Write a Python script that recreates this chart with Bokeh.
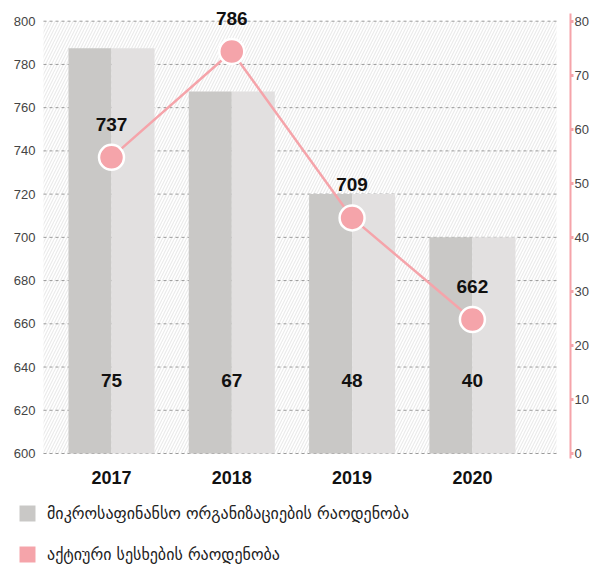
from bokeh.plotting import figure
from bokeh.models import (ColumnDataSource, Range1d, LinearAxis, FixedTicker, LabelSet,
                          Legend, LegendItem)
from bokeh.core.properties import value
from bokeh.transform import dodge
from bokeh.embed import file_html
from bokeh.resources import INLINE

# ---- data ----
years = ["2017", "2018", "2019", "2020"]
mfo_counts = [75, 67, 48, 40]             # მიკროსაფინანსო ორგანიზაციების რაოდენობა (right axis)
active_contracts = [737, 786, 709, 662]   # აქტიური სესხების რაოდენობა (left axis)
left_ticks = [600, 620, 640, 660, 680, 700, 720, 740, 760, 780, 800]
right_ticks = [0, 10, 20, 30, 40, 50, 60, 70, 80]

label_bars = "მიკროსაფინანსო ორგანიზაციების რაოდენობა"
label_line = "აქტიური სესხების რაოდენობა"

PINK = "#f5a4aa"
DARK = "#c9c8c6"
LIGHT = "#e2e0e0"
FONT = "Liberation Sans"

# ---- layout geometry (pixels inside the figure) ----
W, H = 597, 564
frame_w = 570
right_panel = W - frame_w
px_top, px_bottom = 20.7, 453.0          # pixel rows of axis max / axis min
center0_px, step_px = 111.0, 120.3        # first category centre, category spacing
hatch_left_px, hatch_right_px = 43.0, 556.0
ylabel_px = 35.0

ppu_left = (px_bottom - px_top) / (left_ticks[-1] - left_ticks[0])
ppu_right = (px_bottom - px_top) / (right_ticks[-1] - right_ticks[0])
y0 = left_ticks[0] - (H - px_bottom) / ppu_left
y1 = left_ticks[-1] + px_top / ppu_left
r0 = right_ticks[0] - (H - px_bottom) / ppu_right
r1 = right_ticks[-1] + px_top / ppu_right
def xpx(px):
    return (px - center0_px) / step_px
x_start, x_end = xpx(0), xpx(frame_w)
hatch_left, hatch_right = xpx(hatch_left_px), xpx(hatch_right_px)
bar_w = 0.715

xs = list(range(len(years)))
src = ColumnDataSource(dict(
    x=xs, year=years, mfo=mfo_counts, act=active_contracts,
    mfo_txt=[str(v) for v in mfo_counts], act_txt=[str(v) for v in active_contracts],
    base=[right_ticks[0]] * len(xs), ybase=[left_ticks[0]] * len(xs),
))

p = figure(width=W, height=H, output_backend="svg", toolbar_location=None,
           x_range=Range1d(x_start, x_end), y_range=Range1d(y0, y1),
           min_border_top=0, min_border_left=0, min_border_right=right_panel, min_border_bottom=0)
p.outline_line_color = None
p.xgrid.visible = False
p.ygrid.visible = False
p.xaxis.visible = False
p.yaxis.visible = False
p.extra_y_ranges = {"count": Range1d(r0, r1)}

# hatched background
bg = ColumnDataSource(dict(l=[hatch_left], r=[hatch_right], b=[left_ticks[0]], t=[left_ticks[-1]]))
p.quad(left="l", right="r", bottom="b", top="t", source=bg, fill_color="white", line_color=None,
       hatch_pattern="/", hatch_color="#ebebeb", hatch_scale=6, hatch_weight=1.2, level="image")

# dashed grid lines
gsrc = ColumnDataSource(dict(x0=[hatch_left] * len(left_ticks), x1=[hatch_right] * len(left_ticks),
                             y=left_ticks, xl=[xpx(ylabel_px)] * len(left_ticks),
                             txt=[str(t) for t in left_ticks]))
p.segment(x0="x0", x1="x1", y0="y", y1="y", source=gsrc, line_color="#9a9a9a",
          line_width=1, line_dash="3 3", level="underlay")

# left axis tick labels
p.add_layout(LabelSet(x="xl", y="y", text="txt", source=gsrc, text_align="right",
                      text_baseline="middle", text_font=value(FONT), text_font_size="13px",
                      text_color="#444"))

# bars (two-tone)
b1 = p.vbar(x=dodge("x", -bar_w / 4), top="mfo", bottom=0, width=bar_w / 2, source=src,
            y_range_name="count", fill_color=DARK, line_color=None)
p.vbar(x=dodge("x", bar_w / 4), top="mfo", bottom=0, width=bar_w / 2, source=src,
       y_range_name="count", fill_color=LIGHT, line_color=None)

# line + markers
p.line("x", "act", source=src, line_color=PINK, line_width=2.5)
p.scatter("x", "act", source=src, size=25, fill_color=PINK, line_color="white", line_width=2.5)

# pink legend swatch renderer (zero-height, invisible in the plot)
leg_pink = p.vbar(x="x", top="base", bottom="base", width=0.1, source=src,
                  y_range_name="count", fill_color=PINK, line_color=None)

# value labels
p.add_layout(LabelSet(x="x", y="act", text="act_txt", source=src, y_offset=33,
                      text_align="center", text_baseline="middle", text_font=value(FONT),
                      text_font_style="bold", text_font_size="19px", text_color="#111"))
p.add_layout(LabelSet(x="x", y="base", text="mfo_txt", source=src, y_range_name="count",
                      y_offset=73, text_align="center", text_baseline="middle",
                      text_font=value(FONT), text_font_style="bold",
                      text_font_size="19px", text_color="#111"))
# category labels
p.add_layout(LabelSet(x="x", y="ybase", text="year", source=src, y_offset=-24,
                      text_align="center", text_baseline="middle", text_font=value(FONT),
                      text_font_style="bold", text_font_size="18px", text_color="#111"))

# right axis
ra = LinearAxis(y_range_name="count", ticker=FixedTicker(ticks=right_ticks),
                bounds=(right_ticks[0] - 1, right_ticks[-1] + 1.5))
ra.axis_line_color = PINK
ra.axis_line_width = 2
ra.major_tick_line_color = PINK
ra.major_tick_line_width = 3
ra.major_tick_in = 0
ra.major_tick_out = 3
ra.minor_tick_line_color = None
ra.major_label_text_font = FONT
ra.major_label_text_font_size = "13px"
ra.major_label_text_color = "#444"
ra.major_label_standoff = 1
p.add_layout(ra, "right")

legend = Legend(items=[LegendItem(label=label_bars, renderers=[b1]),
                       LegendItem(label=label_line, renderers=[leg_pink])],
                orientation="vertical", location=(17, 0),
                glyph_width=20, glyph_height=20, label_height=20,
                label_text_font="DejaVu Sans", label_text_font_size="16px",
                label_text_color="#222", label_standoff=10, spacing=21,
                padding=0, margin=0, border_line_color=None, background_fill_alpha=0)
p.add_layout(legend, "center")

open("out.html", "w").write(file_html(p, INLINE))
